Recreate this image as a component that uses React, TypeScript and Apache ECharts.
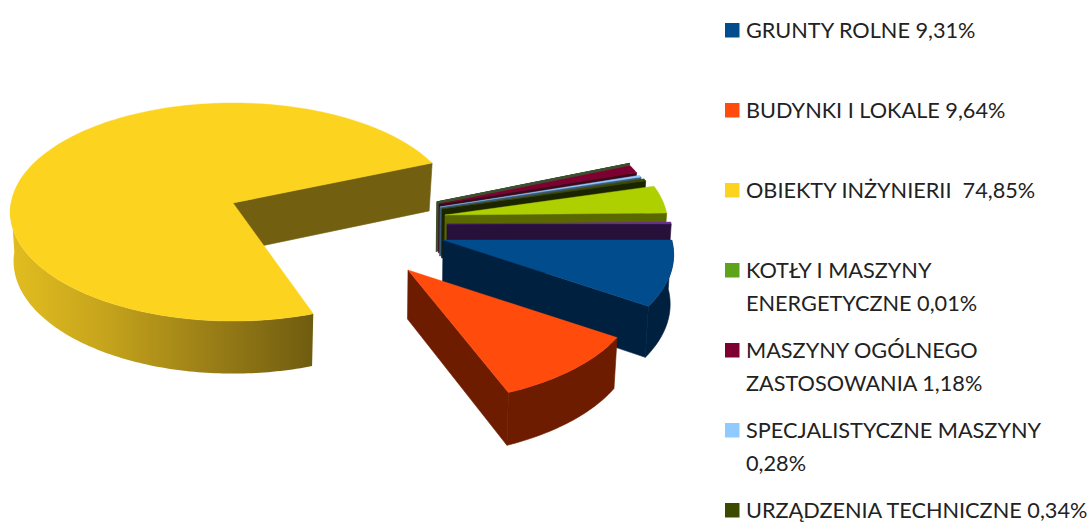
import React, { useEffect, useRef } from "react";
import * as echarts from "echarts";

// Slices in the chart's clockwise order. The last two are outside the (cropped) legend.
const legendLines: string[][] = [
  ["GRUNTY ROLNE 9,31%"],
  ["BUDYNKI I LOKALE 9,64%"],
  ["OBIEKTY INŻYNIERII  74,85%"],
  ["KOTŁY I MASZYNY", "ENERGETYCZNE 0,01%"],
  ["MASZYNY OGÓLNEGO", "ZASTOSOWANIA 1,18%"],
  ["SPECJALISTYCZNE MASZYNY", "0,28%"],
  ["URZĄDZENIA TECHNICZNE 0,34%"],
];
const sliceValues = [9.31, 9.64, 74.85, 0.01, 1.18, 0.28, 0.34, 4.1, 0.29];

const topColors = ["#004c8d", "#ff4c0d", "#fcd41f", "#5fa31c", "#7e0030", "#8fcbff", "#3c4a00", "#aed000", "#6a2c96"];
const wallColors = ["#00203f", "#6e1c00", "#726010", "#3c5030", "#3a0a1c", "#3d5a75", "#1a2400", "#5a6800", "#27103a"];

// Layout of the exploded pie (projected apex of each slice, its scale and perspective,
// and a correction to the drawn start angle, in degrees)
const apexX = [443, 408, 233, 437, 439, 440, 442, 445, 447];
const apexY = [240, 270, 203, 202, 204, 207, 209, 215, 224];
const sliceScale = [1.03, 1.02, 1, 0.965, 0.96, 0.97, 0.975, 1, 1.01];
const slicePerspective = [0.13, 0.176, 0.0826, 0.0826, 0.0826, 0.0826, 0.0826, 0.0826, 0.0826];
const startTweak = [0, 0, 2.3, 0, 0, 0, 0, 0, 0];
const drawOrder = [2, 3, 4, 5, 6, 7, 8, 0, 1];

const RX = 222;
const RY = 108.3;
const WALL = 49;
const WALL_SX = 0.985;
const WALL_SY = 1.03;

const total = sliceValues.reduce((a, b) => a + b, 0);
const startAngles: number[] = [];
sliceValues.reduce((acc, v, i) => {
  startAngles[i] = acc;
  return acc + (v / total) * 360;
}, 0);

function project(i: number, deg: number, bottom: boolean): number[] {
  const t = (deg * Math.PI) / 180;
  const u = Math.cos(t);
  const v = Math.sin(t);
  const s = (1 / (1 - slicePerspective[i] * v)) * sliceScale[i];
  const dx = RX * u * s;
  const dy = RY * v * s;
  return bottom
    ? [apexX[i] + dx * WALL_SX, apexY[i] + dy * WALL_SY + WALL]
    : [apexX[i] + dx, apexY[i] + dy];
}

function arc(i: number, a: number, b: number, bottom: boolean): number[][] {
  const pts: number[][] = [];
  const n = Math.max(2, Math.ceil(Math.abs(b - a)));
  for (let k = 0; k <= n; k++) pts.push(project(i, a + ((b - a) * k) / n, bottom));
  return pts;
}

const renderSlice = (_params: any, api: any) => {
  const i = api.value(1) as number;
  const sweep = ((api.value(0) as number) / total) * 360;
  const a = startAngles[i] + startTweak[i];
  const b = startAngles[i] + sweep;
  const top = topColors[i];
  const wall = wallColors[i];
  const thin = sweep < 0.5;
  const edge = thin ? 1.5 : 0.6;
  const children: any[] = [];

  // radial wall at the slice's closing edge
  const endTop = project(i, b, false);
  const endBot = project(i, b, true);
  children.push({
    type: "polygon",
    shape: { points: [[apexX[i], apexY[i]], endTop, endBot, [apexX[i] - 0.5, apexY[i] + WALL]] },
    style: { fill: wall, stroke: wall, lineWidth: edge },
  });

  // outer curved wall, where the rim faces the viewer
  const wallFrom = a;
  const wallTo = Math.min(b, 180);
  if (wallTo > wallFrom && a < 180) {
    const fill =
      i === 2
        ? new echarts.graphic.LinearGradient(0, 0, 1, 0, [
            { offset: 0, color: "#e2bd20" },
            { offset: 0.3, color: "#c7a51c" },
            { offset: 0.7, color: "#957a16" },
            { offset: 1, color: "#6f5c0f" },
          ])
        : wall;
    children.push({
      type: "polygon",
      shape: { points: [...arc(i, wallFrom, wallTo, false), ...arc(i, wallTo, wallFrom, true)] },
      style: { fill, stroke: i === 2 ? undefined : wall, lineWidth: 0.6 },
    });
  }

  // top face
  children.push({
    type: "polygon",
    shape: { points: [[apexX[i], apexY[i]], ...arc(i, a, b, false)] },
    style: { fill: top, stroke: thin ? wall : top, lineWidth: thin ? 1 : 0.4 },
  });
  return { type: "group", children };
};

const LEGEND_TOP = 23;
const LEGEND_PITCH = 80;
const LINE_PITCH = 33;

function legendGraphics(): any[] {
  const out: any[] = [];
  legendLines.forEach((lines, i) => {
    const y = LEGEND_TOP + LEGEND_PITCH * i;
    out.push({
      type: "rect",
      shape: { x: 725, y, width: 14.5, height: 14.5 },
      style: { fill: topColors[i] },
    });
    lines.forEach((line, j) => {
      out.push({
        type: "text",
        x: 746,
        y: y + 6.5 + LINE_PITCH * j,
        style: {
          text: line,
          fill: "#222222",
          font: "21.7px Lato",
          verticalAlign: "middle",
        },
      });
    });
  });
  return out;
}

export default function App() {
  const ref = useRef<HTMLDivElement>(null);
  useEffect(() => {
    const chart = echarts.init(ref.current!, undefined, { renderer: "svg" });
    chart.setOption({
      animation: false,
      backgroundColor: "#ffffff",
      graphic: legendGraphics(),
      series: [
        {
          type: "custom",
          coordinateSystem: "none",
          silent: true,
          renderItem: renderSlice,
          data: drawOrder.map((i) => [sliceValues[i], i]),
        },
      ],
    });
    return () => chart.dispose();
  }, []);
  return <div ref={ref} style={{ position: "absolute", left: 0, top: 0, width: 1089, height: 522 }} />;
}
